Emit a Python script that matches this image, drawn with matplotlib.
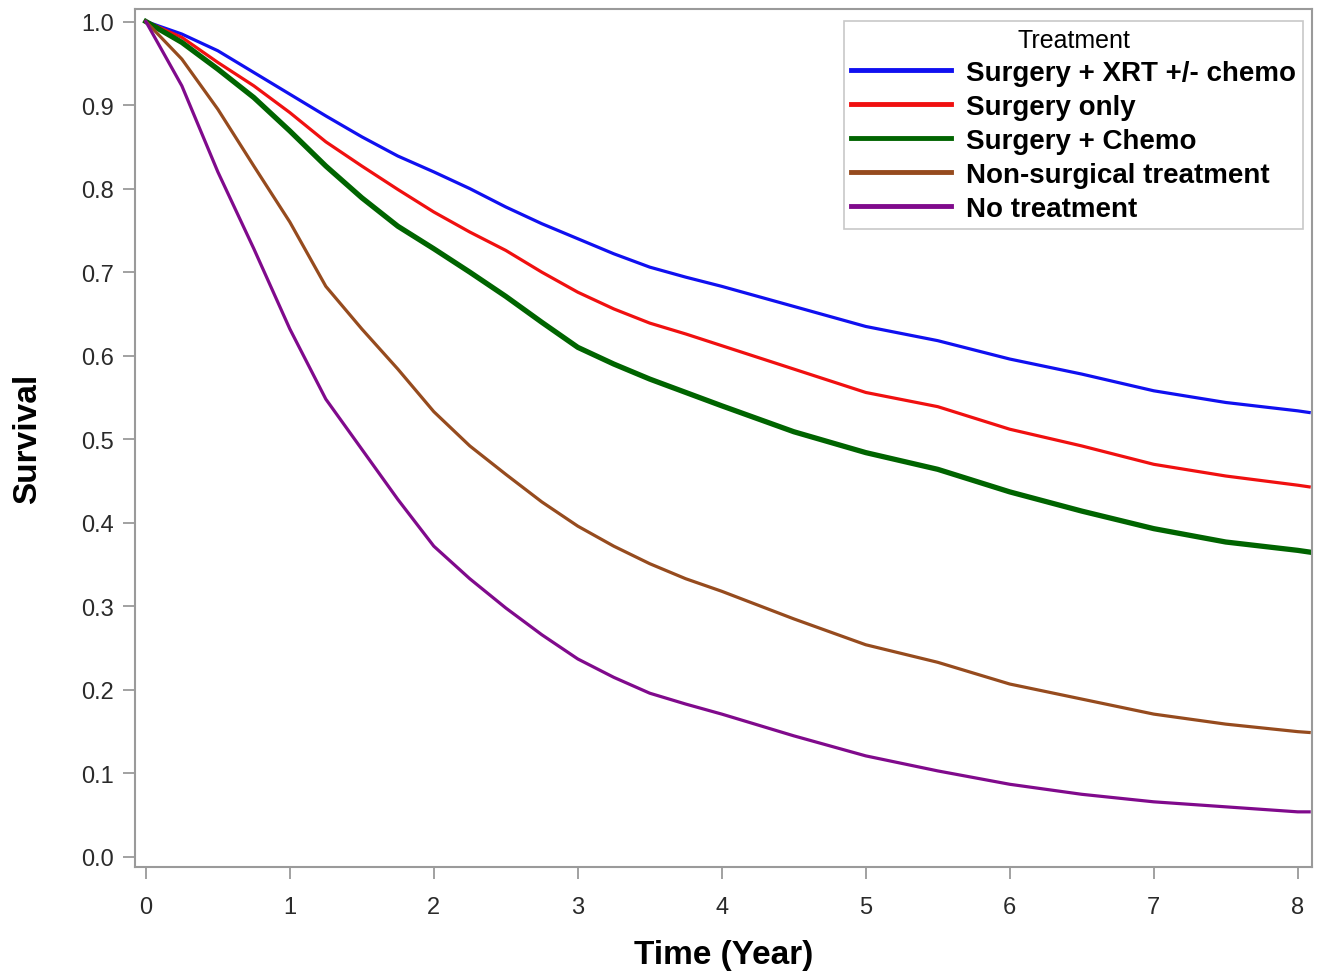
import matplotlib

matplotlib.use("Agg")
import matplotlib.pyplot as plt

plt.rcParams["font.family"] = ["Liberation Sans", "DejaVu Sans"]

# Kaplan-Meier survival (years -> survival)
time_years = [0, 0.25, 0.5, 0.75, 1, 1.25, 1.5, 1.75, 2, 2.25, 2.5, 2.75, 3, 3.25,
              3.5, 3.75, 4, 4.5, 5, 5.5, 6, 6.5, 7, 7.5, 8, 8.08]
surv_xrt = [1.0, 0.985, 0.965, 0.939, 0.913, 0.887, 0.862, 0.839, 0.820, 0.800,
            0.778, 0.758, 0.740, 0.722, 0.706, 0.694, 0.683, 0.659, 0.635, 0.618,
            0.596, 0.578, 0.558, 0.544, 0.534, 0.532]
surv_surgery = [1.0, 0.981, 0.951, 0.923, 0.891, 0.856, 0.827, 0.799, 0.772, 0.748,
                0.726, 0.700, 0.676, 0.656, 0.639, 0.626, 0.612, 0.584, 0.556, 0.539,
                0.512, 0.492, 0.470, 0.456, 0.445, 0.443]
surv_chemo = [1.0, 0.975, 0.943, 0.909, 0.869, 0.827, 0.789, 0.755, 0.728, 0.700,
              0.671, 0.640, 0.610, 0.590, 0.572, 0.556, 0.540, 0.509, 0.484, 0.464,
              0.437, 0.414, 0.393, 0.377, 0.367, 0.365]
surv_nonsurg = [1.0, 0.955, 0.895, 0.827, 0.760, 0.683, 0.632, 0.584, 0.533, 0.492,
                0.458, 0.425, 0.396, 0.372, 0.351, 0.333, 0.318, 0.285, 0.254, 0.233,
                0.207, 0.189, 0.171, 0.159, 0.150, 0.149]
surv_none = [1.0, 0.923, 0.820, 0.728, 0.632, 0.548, 0.488, 0.428, 0.372, 0.333,
             0.298, 0.266, 0.237, 0.215, 0.196, 0.183, 0.171, 0.145, 0.121, 0.103,
             0.087, 0.075, 0.066, 0.060, 0.054, 0.054]

labels = ["Surgery + XRT +/- chemo", "Surgery only", "Surgery + Chemo",
          "Non-surgical treatment", "No treatment"]
series = [surv_xrt, surv_surgery, surv_chemo, surv_nonsurg, surv_none]
colors = ["#1010f0", "#f01010", "#006400", "#964b1e", "#800a8c"]
widths = [2.3, 2.3, 3.8, 2.3, 2.3]

x_ticks = list(range(0, 9))
y_ticks = [i / 10 for i in range(0, 11)]

figure = plt.figure(figsize=(13.28, 9.79), dpi=100)
axis = figure.add_axes([0.1017, 0.1134, 0.8863, 0.8764])

for values, label, color, width in zip(series, labels, colors, widths):
    axis.plot(time_years, values, color=color, linewidth=width, label=label,
              solid_joinstyle="round")

axis.set_xlim(-0.075, 8.1)
axis.set_ylim(-0.012, 1.015)
axis.set_xticks(x_ticks)
axis.set_yticks(y_ticks)
axis.set_yticklabels([f"{v:.1f}" for v in y_ticks])

for spine in axis.spines.values():
    spine.set_color("#9a9a9a")
    spine.set_linewidth(1.5)
axis.tick_params(direction="out", length=8.5, width=1.3, color="#9a9a9a",
                 labelsize=17, labelcolor="#2a2a2a")
axis.tick_params(axis="x", pad=12.5)
axis.tick_params(axis="y", pad=7)

axis.set_xlabel("Time (Year)", fontsize=24, fontweight="bold", labelpad=15)
axis.set_ylabel("Survival", fontsize=24, fontweight="bold", labelpad=27)

legend = axis.legend(loc="upper right", bbox_to_anchor=(0.9924, 0.986),
                     title="Treatment", title_fontsize=18,
                     prop={"size": 20, "weight": "bold"},
                     handlelength=3.6, handletextpad=0.55, labelspacing=0.29,
                     borderpad=0.25, fancybox=False, framealpha=1,
                     edgecolor="#c8c8c8", borderaxespad=0)
legend.get_frame().set_linewidth(1.2)
for line in legend.get_lines():
    line.set_linewidth(3.5)

figure.savefig("out.png", dpi=100)
